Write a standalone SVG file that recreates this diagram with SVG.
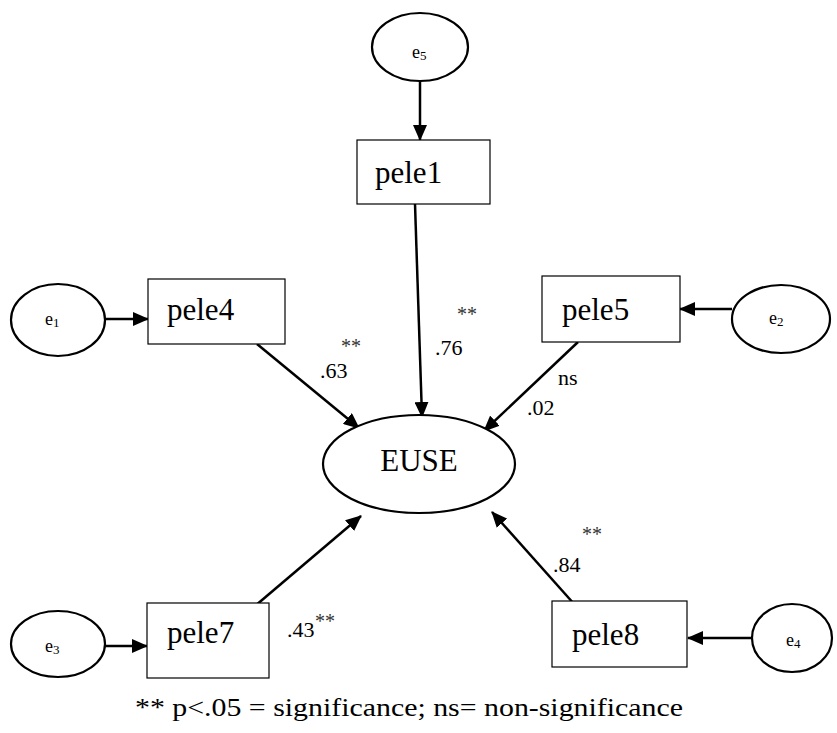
<svg xmlns="http://www.w3.org/2000/svg" width="837" height="733" viewBox="0 0 837 733">
<style>
.box{fill:#fff;stroke:#000;stroke-width:1.2}
.ell{fill:#fff;stroke:#000;stroke-width:2.2}
text{font-family:'Times New Roman','Liberation Serif','DejaVu Serif',serif}
.node{font-size:31px;fill:#000}
.err{font-size:18px;fill:#000}
.sub{font-size:13px}
.lbl{font-size:22px;fill:#000}
.sig{font-size:20px;fill:#333}
.foot{font-size:25px;fill:#000}
.arr{stroke:#000;stroke-width:2.5;fill:none;marker-end:url(#ah)}
</style>
<defs>
<marker id="ah" markerUnits="userSpaceOnUse" markerWidth="16" markerHeight="14" refX="15" refY="7" orient="auto">
<path d="M0,0 L16,7 L0,14 Z" fill="#000"/>
</marker>
</defs>
<rect width="837" height="733" fill="#fff"/>
<g id="connectors">
<line class="arr" x1="420" y1="81" x2="420" y2="140"/>
<line class="arr" x1="105" y1="319" x2="148" y2="319"/>
<line class="arr" x1="732" y1="309" x2="680" y2="309"/>
<line class="arr" x1="105" y1="646" x2="147" y2="646"/>
<line class="arr" x1="752" y1="638" x2="688" y2="638"/>
<line class="arr" x1="415" y1="204" x2="422" y2="417"/>
<line class="arr" x1="257" y1="344" x2="359" y2="428"/>
<line class="arr" x1="578" y1="342" x2="484" y2="431"/>
<line class="arr" x1="255" y1="606" x2="361" y2="516"/>
<line class="arr" x1="575" y1="605" x2="492" y2="512"/>
</g>
<g id="e5"><ellipse class="ell" cx="420" cy="47" rx="48" ry="34"/><text class="err" x="412" y="58" font-family="Liberation Serif, serif">e<tspan class="sub" dy="2">5</tspan></text></g>
<g id="pele1"><rect class="box" x="357" y="140" width="133" height="64"/><text class="node" x="375" y="183">pele1</text></g>
<g id="e1"><ellipse class="ell" cx="58" cy="320" rx="47" ry="36"/><text class="err" x="45" y="325">e<tspan class="sub" dy="2">1</tspan></text></g>
<g id="pele4"><rect class="box" x="148" y="279" width="137" height="65"/><text class="node" x="167" y="320">pele4</text></g>
<g id="pele5"><rect class="box" x="542" y="276" width="138" height="66"/><text class="node" x="562" y="320">pele5</text></g>
<g id="e2"><ellipse class="ell" cx="781" cy="319" rx="49" ry="34"/><text class="err" x="769" y="324">e<tspan class="sub" dy="2">2</tspan></text></g>
<g id="EUSE"><ellipse class="ell" cx="419" cy="464" rx="96" ry="49"/><text class="node" x="419" y="471" text-anchor="middle">EUSE</text></g>
<g id="e3"><ellipse class="ell" cx="58" cy="644" rx="47" ry="33"/><text class="err" x="45" y="652">e<tspan class="sub" dy="2">3</tspan></text></g>
<g id="pele7"><rect class="box" x="147" y="603" width="122" height="75"/><text class="node" x="167" y="643">pele7</text></g>
<g id="pele8"><rect class="box" x="552" y="601" width="135" height="66"/><text class="node" x="572" y="645">pele8</text></g>
<g id="e4"><ellipse class="ell" cx="792" cy="638" rx="40" ry="34"/><text class="err" x="786" y="646">e<tspan class="sub" dy="2">4</tspan></text></g>
<g id="labels">
<text class="sig" x="341" y="353">**</text>
<text class="lbl" x="320" y="378">.63</text>
<text class="sig" x="457" y="321">**</text>
<text class="lbl" x="435" y="355">.76</text>
<text class="lbl" x="558" y="385">ns</text>
<text class="lbl" x="527" y="415">.02</text>
<text class="sig" x="582" y="541">**</text>
<text class="lbl" x="553" y="572">.84</text>
<text class="lbl" x="287" y="637">.43</text>
<text class="sig" x="315" y="628">**</text>
</g>
<text class="foot" x="135" y="716" textLength="548" lengthAdjust="spacingAndGlyphs">** p&lt;.05 = significance; ns= non-significance</text>
</svg>
